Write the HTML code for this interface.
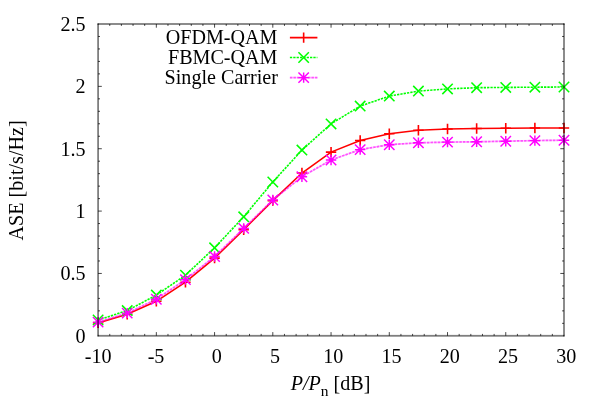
<!DOCTYPE html>
<html><head><meta charset="utf-8"><title>ASE vs P/Pn</title>
<style>html,body{margin:0;padding:0;background:#fff;}body{width:600px;height:420px;overflow:hidden;}svg{display:block;will-change:transform;}text{font-family:"Liberation Serif",serif;font-size:20.1px;fill:#000;}</style>
</head><body>
<svg width="600" height="420" viewBox="0 0 600 420">
<rect x="0" y="0" width="600" height="420" fill="#ffffff"/>
<path d="M98.1 335.8V334.8M98.1 24V25M109.75 335.8V333.9M109.75 24V25.9M121.39 335.8V333.9M121.39 24V25.9M133.04 335.8V333.9M133.04 24V25.9M144.69 335.8V333.9M144.69 24V25.9M156.34 335.8V332.1M156.34 24V27.7M167.98 335.8V333.9M167.98 24V25.9M179.63 335.8V333.9M179.63 24V25.9M191.28 335.8V333.9M191.28 24V25.9M202.93 335.8V333.9M202.93 24V25.9M214.57 335.8V332.1M214.57 24V27.7M226.22 335.8V333.9M226.22 24V25.9M237.87 335.8V333.9M237.87 24V25.9M249.52 335.8V333.9M249.52 24V25.9M261.16 335.8V333.9M261.16 24V25.9M272.81 335.8V332.1M272.81 24V27.7M284.46 335.8V333.9M284.46 24V25.9M296.11 335.8V333.9M296.11 24V25.9M307.75 335.8V333.9M307.75 24V25.9M319.4 335.8V333.9M319.4 24V25.9M331.05 335.8V332.1M331.05 24V27.7M342.7 335.8V333.9M342.7 24V25.9M354.35 335.8V333.9M354.35 24V25.9M365.99 335.8V333.9M365.99 24V25.9M377.64 335.8V333.9M377.64 24V25.9M389.29 335.8V332.1M389.29 24V27.7M400.93 335.8V333.9M400.93 24V25.9M412.58 335.8V333.9M412.58 24V25.9M424.23 335.8V333.9M424.23 24V25.9M435.88 335.8V333.9M435.88 24V25.9M447.52 335.8V332.1M447.52 24V27.7M459.17 335.8V333.9M459.17 24V25.9M470.82 335.8V333.9M470.82 24V25.9M482.47 335.8V333.9M482.47 24V25.9M494.12 335.8V333.9M494.12 24V25.9M505.76 335.8V332.1M505.76 24V27.7M517.41 335.8V333.9M517.41 24V25.9M529.06 335.8V333.9M529.06 24V25.9M540.7 335.8V333.9M540.7 24V25.9M552.35 335.8V333.9M552.35 24V25.9M564 335.8V334.8M564 24V25M98.1 335.8H99.1M564 335.8H563M98.1 323.33H100M564 323.33H562.1M98.1 310.86H100M564 310.86H562.1M98.1 298.38H100M564 298.38H562.1M98.1 285.91H100M564 285.91H562.1M98.1 273.44H101.8M564 273.44H560.3M98.1 260.97H100M564 260.97H562.1M98.1 248.5H100M564 248.5H562.1M98.1 236.02H100M564 236.02H562.1M98.1 223.55H100M564 223.55H562.1M98.1 211.08H101.8M564 211.08H560.3M98.1 198.61H100M564 198.61H562.1M98.1 186.14H100M564 186.14H562.1M98.1 173.66H100M564 173.66H562.1M98.1 161.19H100M564 161.19H562.1M98.1 148.72H101.8M564 148.72H560.3M98.1 136.25H100M564 136.25H562.1M98.1 123.78H100M564 123.78H562.1M98.1 111.3H100M564 111.3H562.1M98.1 98.83H100M564 98.83H562.1M98.1 86.36H101.8M564 86.36H560.3M98.1 73.89H100M564 73.89H562.1M98.1 61.42H100M564 61.42H562.1M98.1 48.94H100M564 48.94H562.1M98.1 36.47H100M564 36.47H562.1M98.1 24H99.1M564 24H563" stroke="#000" stroke-opacity="0.8" stroke-width="0.9" fill="none"/>
<polyline points="98.1,322.9 127.22,314.3 156.34,301.3 185.46,282.2 214.57,258.1 243.69,229.8 272.81,200.6 301.93,173 331.05,152.1 360.17,140.5 389.29,133.8 418.41,130.3 447.52,129 476.64,128.5 505.76,128.2 534.88,128 564,128" fill="none" stroke="#ff0000" stroke-width="1.6"/>
<path d="M92.9 322.9H103.3M98.1 317.7V328.1M122.02 314.3H132.42M127.22 309.1V319.5M151.14 301.3H161.54M156.34 296.1V306.5M180.26 282.2H190.66M185.46 277V287.4M209.38 258.1H219.77M214.57 252.9V263.3M238.49 229.8H248.89M243.69 224.6V235M267.61 200.6H278.01M272.81 195.4V205.8M296.73 173H307.13M301.93 167.8V178.2M325.85 152.1H336.25M331.05 146.9V157.3M354.97 140.5H365.37M360.17 135.3V145.7M384.09 133.8H394.49M389.29 128.6V139M413.21 130.3H423.61M418.41 125.1V135.5M442.32 129H452.72M447.52 123.8V134.2M471.44 128.5H481.84M476.64 123.3V133.7M500.56 128.2H510.96M505.76 123V133.4M529.68 128H540.08M534.88 122.8V133.2M558.8 128H569.2M564 122.8V133.2" stroke="#ff0000" stroke-width="1.6" fill="none"/>
<polyline points="98.1,320 127.22,310.6 156.34,295.1 185.46,275.2 214.57,247.8 243.69,216.8 272.81,182 301.93,150.1 331.05,123.9 360.17,106.1 389.29,96.1 418.41,91.1 447.52,88.9 476.64,87.7 505.76,87.4 534.88,87.2 564,87" fill="none" stroke="#00ff00" stroke-width="1.6" stroke-dasharray="2.3 1.05"/>
<path d="M92.9 314.8L103.3 325.2M92.9 325.2L103.3 314.8M122.02 305.4L132.42 315.8M122.02 315.8L132.42 305.4M151.14 289.9L161.54 300.3M151.14 300.3L161.54 289.9M180.26 270L190.66 280.4M180.26 280.4L190.66 270M209.38 242.6L219.77 253M209.38 253L219.77 242.6M238.49 211.6L248.89 222M238.49 222L248.89 211.6M267.61 176.8L278.01 187.2M267.61 187.2L278.01 176.8M296.73 144.9L307.13 155.3M296.73 155.3L307.13 144.9M325.85 118.7L336.25 129.1M325.85 129.1L336.25 118.7M354.97 100.9L365.37 111.3M354.97 111.3L365.37 100.9M384.09 90.9L394.49 101.3M384.09 101.3L394.49 90.9M413.21 85.9L423.61 96.3M413.21 96.3L423.61 85.9M442.32 83.7L452.72 94.1M442.32 94.1L452.72 83.7M471.44 82.5L481.84 92.9M471.44 92.9L481.84 82.5M500.56 82.2L510.96 92.6M500.56 92.6L510.96 82.2M529.68 82L540.08 92.4M529.68 92.4L540.08 82M558.8 81.8L569.2 92.2M558.8 92.2L569.2 81.8" stroke="#00ff00" stroke-width="1.55" fill="none"/>
<polyline points="98.1,322.1 127.22,313.1 156.34,299.2 185.46,279.6 214.57,256.5 243.69,228.4 272.81,200 301.93,176.7 331.05,160 360.17,149.6 389.29,144.7 418.41,142.8 447.52,142.1 476.64,141.8 505.76,141.2 534.88,140.6 564,140.2" fill="none" stroke="#ff00ff" stroke-opacity="0.22" stroke-width="1.7"/>
<polyline points="98.1,322.1 127.22,313.1 156.34,299.2 185.46,279.6 214.57,256.5 243.69,228.4 272.81,200 301.93,176.7 331.05,160 360.17,149.6 389.29,144.7 418.41,142.8 447.52,142.1 476.64,141.8 505.76,141.2 534.88,140.6 564,140.2" fill="none" stroke="#ff00ff" stroke-opacity="0.6" stroke-width="1.7" stroke-dasharray="2.4 1.2"/>
<path d="M92.9 322.1H103.3M98.1 316.9V327.3M92.9 316.9L103.3 327.3M92.9 327.3L103.3 316.9M122.02 313.1H132.42M127.22 307.9V318.3M122.02 307.9L132.42 318.3M122.02 318.3L132.42 307.9M151.14 299.2H161.54M156.34 294V304.4M151.14 294L161.54 304.4M151.14 304.4L161.54 294M180.26 279.6H190.66M185.46 274.4V284.8M180.26 274.4L190.66 284.8M180.26 284.8L190.66 274.4M209.38 256.5H219.77M214.57 251.3V261.7M209.38 251.3L219.77 261.7M209.38 261.7L219.77 251.3M238.49 228.4H248.89M243.69 223.2V233.6M238.49 223.2L248.89 233.6M238.49 233.6L248.89 223.2M267.61 200H278.01M272.81 194.8V205.2M267.61 194.8L278.01 205.2M267.61 205.2L278.01 194.8M296.73 176.7H307.13M301.93 171.5V181.9M296.73 171.5L307.13 181.9M296.73 181.9L307.13 171.5M325.85 160H336.25M331.05 154.8V165.2M325.85 154.8L336.25 165.2M325.85 165.2L336.25 154.8M354.97 149.6H365.37M360.17 144.4V154.8M354.97 144.4L365.37 154.8M354.97 154.8L365.37 144.4M384.09 144.7H394.49M389.29 139.5V149.9M384.09 139.5L394.49 149.9M384.09 149.9L394.49 139.5M413.21 142.8H423.61M418.41 137.6V148M413.21 137.6L423.61 148M413.21 148L423.61 137.6M442.32 142.1H452.72M447.52 136.9V147.3M442.32 136.9L452.72 147.3M442.32 147.3L452.72 136.9M471.44 141.8H481.84M476.64 136.6V147M471.44 136.6L481.84 147M471.44 147L481.84 136.6M500.56 141.2H510.96M505.76 136V146.4M500.56 136L510.96 146.4M500.56 146.4L510.96 136M529.68 140.6H540.08M534.88 135.4V145.8M529.68 135.4L540.08 145.8M529.68 145.8L540.08 135.4M558.8 140.2H569.2M564 135V145.4M558.8 135L569.2 145.4M558.8 145.4L569.2 135" stroke="#ff00ff" stroke-width="1.45" fill="none"/>
<rect x="98.1" y="24" width="465.9" height="311.8" fill="none" stroke="#000" stroke-opacity="0.5" stroke-width="1.8"/>
<text x="277.4" y="43.8" text-anchor="end" font-size="19px">OFDM-QAM</text>
<text x="277.4" y="63.6" text-anchor="end" font-size="19px">FBMC-QAM</text>
<text x="277.9" y="83.9" text-anchor="end" font-size="19px">Single Carrier</text>
<path d="M289.9 37.6H317.4M298.45 37.6H308.85M303.65 32.4V42.8" stroke="#ff0000" stroke-width="1.6" fill="none"/>
<path d="M289.9 57.5H317.4" stroke="#00ff00" stroke-width="1.6" stroke-dasharray="2.3 1.05" fill="none"/>
<path d="M298.45 52.3L308.85 62.7M298.45 62.7L308.85 52.3" stroke="#00ff00" stroke-width="1.55" fill="none"/>
<path d="M289.9 77.6H317.4" stroke="#ff00ff" stroke-opacity="0.22" stroke-width="1.7" fill="none"/>
<path d="M289.9 77.6H317.4" stroke="#ff00ff" stroke-opacity="0.6" stroke-width="1.7" stroke-dasharray="2.4 1.2" fill="none"/>
<path d="M298.45 77.6H308.85M303.65 72.4V82.8M298.45 72.4L308.85 82.8M298.45 82.8L308.85 72.4" stroke="#ff00ff" stroke-width="1.45" fill="none"/>
<text x="85.6" y="342.8" text-anchor="end">0</text>
<text x="85.6" y="280.44" text-anchor="end">0.5</text>
<text x="85.6" y="218.08" text-anchor="end">1</text>
<text x="85.6" y="155.72" text-anchor="end">1.5</text>
<text x="85.6" y="93.36" text-anchor="end">2</text>
<text x="85.6" y="31" text-anchor="end">2.5</text>
<text x="98.1" y="362.8" text-anchor="middle">-10</text>
<text x="156.04" y="362.8" text-anchor="middle">-5</text>
<text x="216.88" y="362.8" text-anchor="middle">0</text>
<text x="275.11" y="362.8" text-anchor="middle">5</text>
<text x="333.35" y="362.8" text-anchor="middle">10</text>
<text x="391.59" y="362.8" text-anchor="middle">15</text>
<text x="449.82" y="362.8" text-anchor="middle">20</text>
<text x="508.06" y="362.8" text-anchor="middle">25</text>
<text x="566.3" y="362.8" text-anchor="middle">30</text>
<text x="330.6" y="390.4" text-anchor="middle"><tspan font-style="italic">P/P</tspan><tspan font-size="15.48px" dy="6.0">n</tspan><tspan dy="-6.0"> [dB]</tspan></text>
<text transform="translate(22.5 180.4) rotate(-90)" text-anchor="middle">ASE [bit/s/Hz]</text>
</svg>
</body></html>
